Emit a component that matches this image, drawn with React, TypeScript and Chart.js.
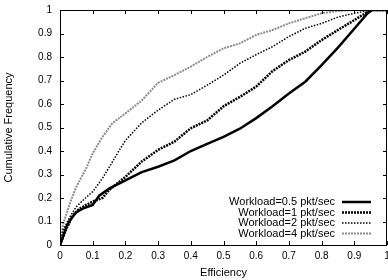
import React, { useEffect, useRef } from "react";
import { Chart, registerables } from "chart.js";

Chart.register(...registerables);

const seriesLabels = [
  "Workload=0.5 pkt/sec",
  "Workload=1 pkt/sec",
  "Workload=2 pkt/sec",
  "Workload=4 pkt/sec",
];

const xTicks = [0, 0.1, 0.2, 0.3, 0.4, 0.5, 0.6, 0.7, 0.8, 0.9, 1];
const yTicks = [0, 0.1, 0.2, 0.3, 0.4, 0.5, 0.6, 0.7, 0.8, 0.9, 1];

const w05X = [0, 0.02, 0.03, 0.05, 0.07, 0.1, 0.12, 0.15, 0.2, 0.25, 0.3, 0.35, 0.4, 0.45, 0.5, 0.55, 0.6, 0.65, 0.7, 0.75, 0.8, 0.85, 0.9, 0.94, 0.955, 1];
const w05Y = [0, 0.08, 0.105, 0.14, 0.155, 0.17, 0.21, 0.24, 0.275, 0.31, 0.333, 0.36, 0.4, 0.43, 0.46, 0.495, 0.54, 0.59, 0.645, 0.695, 0.765, 0.84, 0.92, 0.985, 1, 1];

const w1X = [0, 0.02, 0.04, 0.06, 0.1, 0.13, 0.15, 0.2, 0.25, 0.3, 0.35, 0.4, 0.45, 0.5, 0.55, 0.6, 0.65, 0.7, 0.75, 0.8, 0.85, 0.9, 0.95, 1];
const w1Y = [0, 0.07, 0.127, 0.155, 0.185, 0.2, 0.234, 0.29, 0.355, 0.405, 0.44, 0.497, 0.53, 0.59, 0.63, 0.674, 0.74, 0.787, 0.823, 0.872, 0.915, 0.957, 1, 1];

const w2X = [0, 0.01, 0.03, 0.05, 0.07, 0.1, 0.13, 0.15, 0.18, 0.2, 0.22, 0.25, 0.3, 0.35, 0.4, 0.45, 0.5, 0.55, 0.6, 0.65, 0.7, 0.75, 0.8, 0.85, 0.9, 0.95, 1];
const w2Y = [0, 0.064, 0.12, 0.163, 0.19, 0.227, 0.284, 0.33, 0.4, 0.445, 0.475, 0.52, 0.574, 0.62, 0.64, 0.68, 0.723, 0.773, 0.81, 0.844, 0.887, 0.922, 0.943, 0.97, 0.986, 1, 1];

const w4X = [0, 0.01, 0.03, 0.05, 0.08, 0.1, 0.13, 0.16, 0.2, 0.25, 0.3, 0.35, 0.4, 0.45, 0.5, 0.55, 0.6, 0.65, 0.7, 0.75, 0.8, 0.85, 0.9, 1];
const w4Y = [0, 0.09, 0.177, 0.248, 0.326, 0.39, 0.46, 0.518, 0.56, 0.615, 0.69, 0.723, 0.759, 0.8, 0.837, 0.858, 0.894, 0.915, 0.943, 0.965, 0.986, 0.996, 1, 1];

const seriesX = [w05X, w1X, w2X, w4X];
const seriesY = [w05Y, w1Y, w2Y, w4Y];
const colors = ["#000000", "#000000", "#000000", "#8c8c8c"];
const widths = [2.5, 2.5, 1.5, 2];
const dashes: number[][] = [[], [2, 1], [1.5, 1.5], [2, 1]];

const FONT = "'Liberation Sans', Arial, sans-serif";

const framePlugin = {
  id: "frame",
  afterDatasetsDraw(chart: any) {
    const { ctx, chartArea: a, scales } = chart;
    ctx.save();
    ctx.strokeStyle = "#000";
    ctx.lineWidth = 1;
    ctx.setLineDash([]);
    ctx.beginPath();
    const tl = 4;
    xTicks.forEach((v) => {
      const px = Math.round(scales.x.getPixelForValue(v)) + 0.5;
      ctx.moveTo(px, a.bottom);
      ctx.lineTo(px, a.bottom - tl);
      ctx.moveTo(px, a.top);
      ctx.lineTo(px, a.top + tl);
    });
    yTicks.forEach((v) => {
      const py = Math.round(scales.y.getPixelForValue(v)) + 0.5;
      ctx.moveTo(a.left, py);
      ctx.lineTo(a.left + tl, py);
      ctx.moveTo(a.right, py);
      ctx.lineTo(a.right - tl, py);
    });
    ctx.stroke();
    ctx.strokeRect(Math.round(a.left) + 0.5, Math.round(a.top) + 0.5, Math.round(a.right - a.left) - 1, Math.round(a.bottom - a.top));

    // legend
    ctx.font = "11px " + FONT;
    ctx.textAlign = "right";
    ctx.textBaseline = "middle";
    const rows = [202, 212.5, 223, 233.5];
    seriesLabels.forEach((lab, i) => {
      ctx.fillStyle = "#000";
      ctx.fillText(lab, 335, rows[i]);
      ctx.beginPath();
      ctx.strokeStyle = colors[i];
      ctx.lineWidth = widths[i];
      ctx.setLineDash(dashes[i]);
      ctx.moveTo(342, rows[i]);
      ctx.lineTo(371, rows[i]);
      ctx.stroke();
    });
    ctx.restore();
  },
};

export default function App() {
  const ref = useRef<HTMLCanvasElement>(null);
  useEffect(() => {
    document.body.style.margin = "0";
    const chart = new Chart(ref.current!, {
      type: "line",
      data: {
        datasets: seriesLabels.map((lab, i) => ({
          label: lab,
          data: seriesX[i].map((x, j) => ({ x, y: seriesY[i][j] })),
          borderColor: colors[i],
          borderWidth: widths[i],
          borderDash: dashes[i],
          pointRadius: 0,
          tension: 0,
          fill: false,
        })),
      },
      options: {
        animation: false,
        responsive: false,
        layout: { padding: { top: 10, right: 1, left: 0, bottom: 0 } },
        plugins: { legend: { display: false }, tooltip: { enabled: false } },
        scales: {
          x: {
            type: "linear",
            min: 0,
            max: 1,
            afterBuildTicks: (s: any) => {
              s.ticks = xTicks.map((v) => ({ value: v }));
            },
            afterFit: (s: any) => {
              s.height = 35;
              s.paddingLeft = 0;
              s.paddingRight = 0;
            },
            grid: { display: false, drawTicks: false },
            border: { display: false },
            ticks: {
              font: { family: FONT, size: 10 },
              color: "#000",
              padding: 5,
              maxRotation: 0,
              callback: (v: any) => String(v),
            },
            title: {
              display: true,
              text: "Efficiency",
              font: { family: FONT, size: 11 },
              color: "#000",
              padding: { top: 1, bottom: 0 },
            },
          },
          y: {
            type: "linear",
            min: 0,
            max: 1,
            afterBuildTicks: (s: any) => {
              s.ticks = yTicks.map((v) => ({ value: v }));
            },
            afterFit: (s: any) => {
              s.width = 60;
              s.paddingTop = 0;
              s.paddingBottom = 0;
            },
            grid: { display: false, drawTicks: false },
            border: { display: false },
            ticks: {
              font: { family: FONT, size: 10 },
              color: "#000",
              padding: 8,
              callback: (v: any) => String(v),
            },
            title: {
              display: true,
              text: "Cumulative Frequency",
              font: { family: FONT, size: 11 },
              color: "#000",
              padding: { top: 2, bottom: 0 },
            },
          },
        },
      },
      plugins: [framePlugin],
    });
    return () => chart.destroy();
  }, []);
  return (
    <div style={{ position: "absolute", left: 0, top: 0, width: 388, height: 280 }}>
      <canvas ref={ref} width={388} height={280} style={{ width: 388, height: 280 }} />
    </div>
  );
}
